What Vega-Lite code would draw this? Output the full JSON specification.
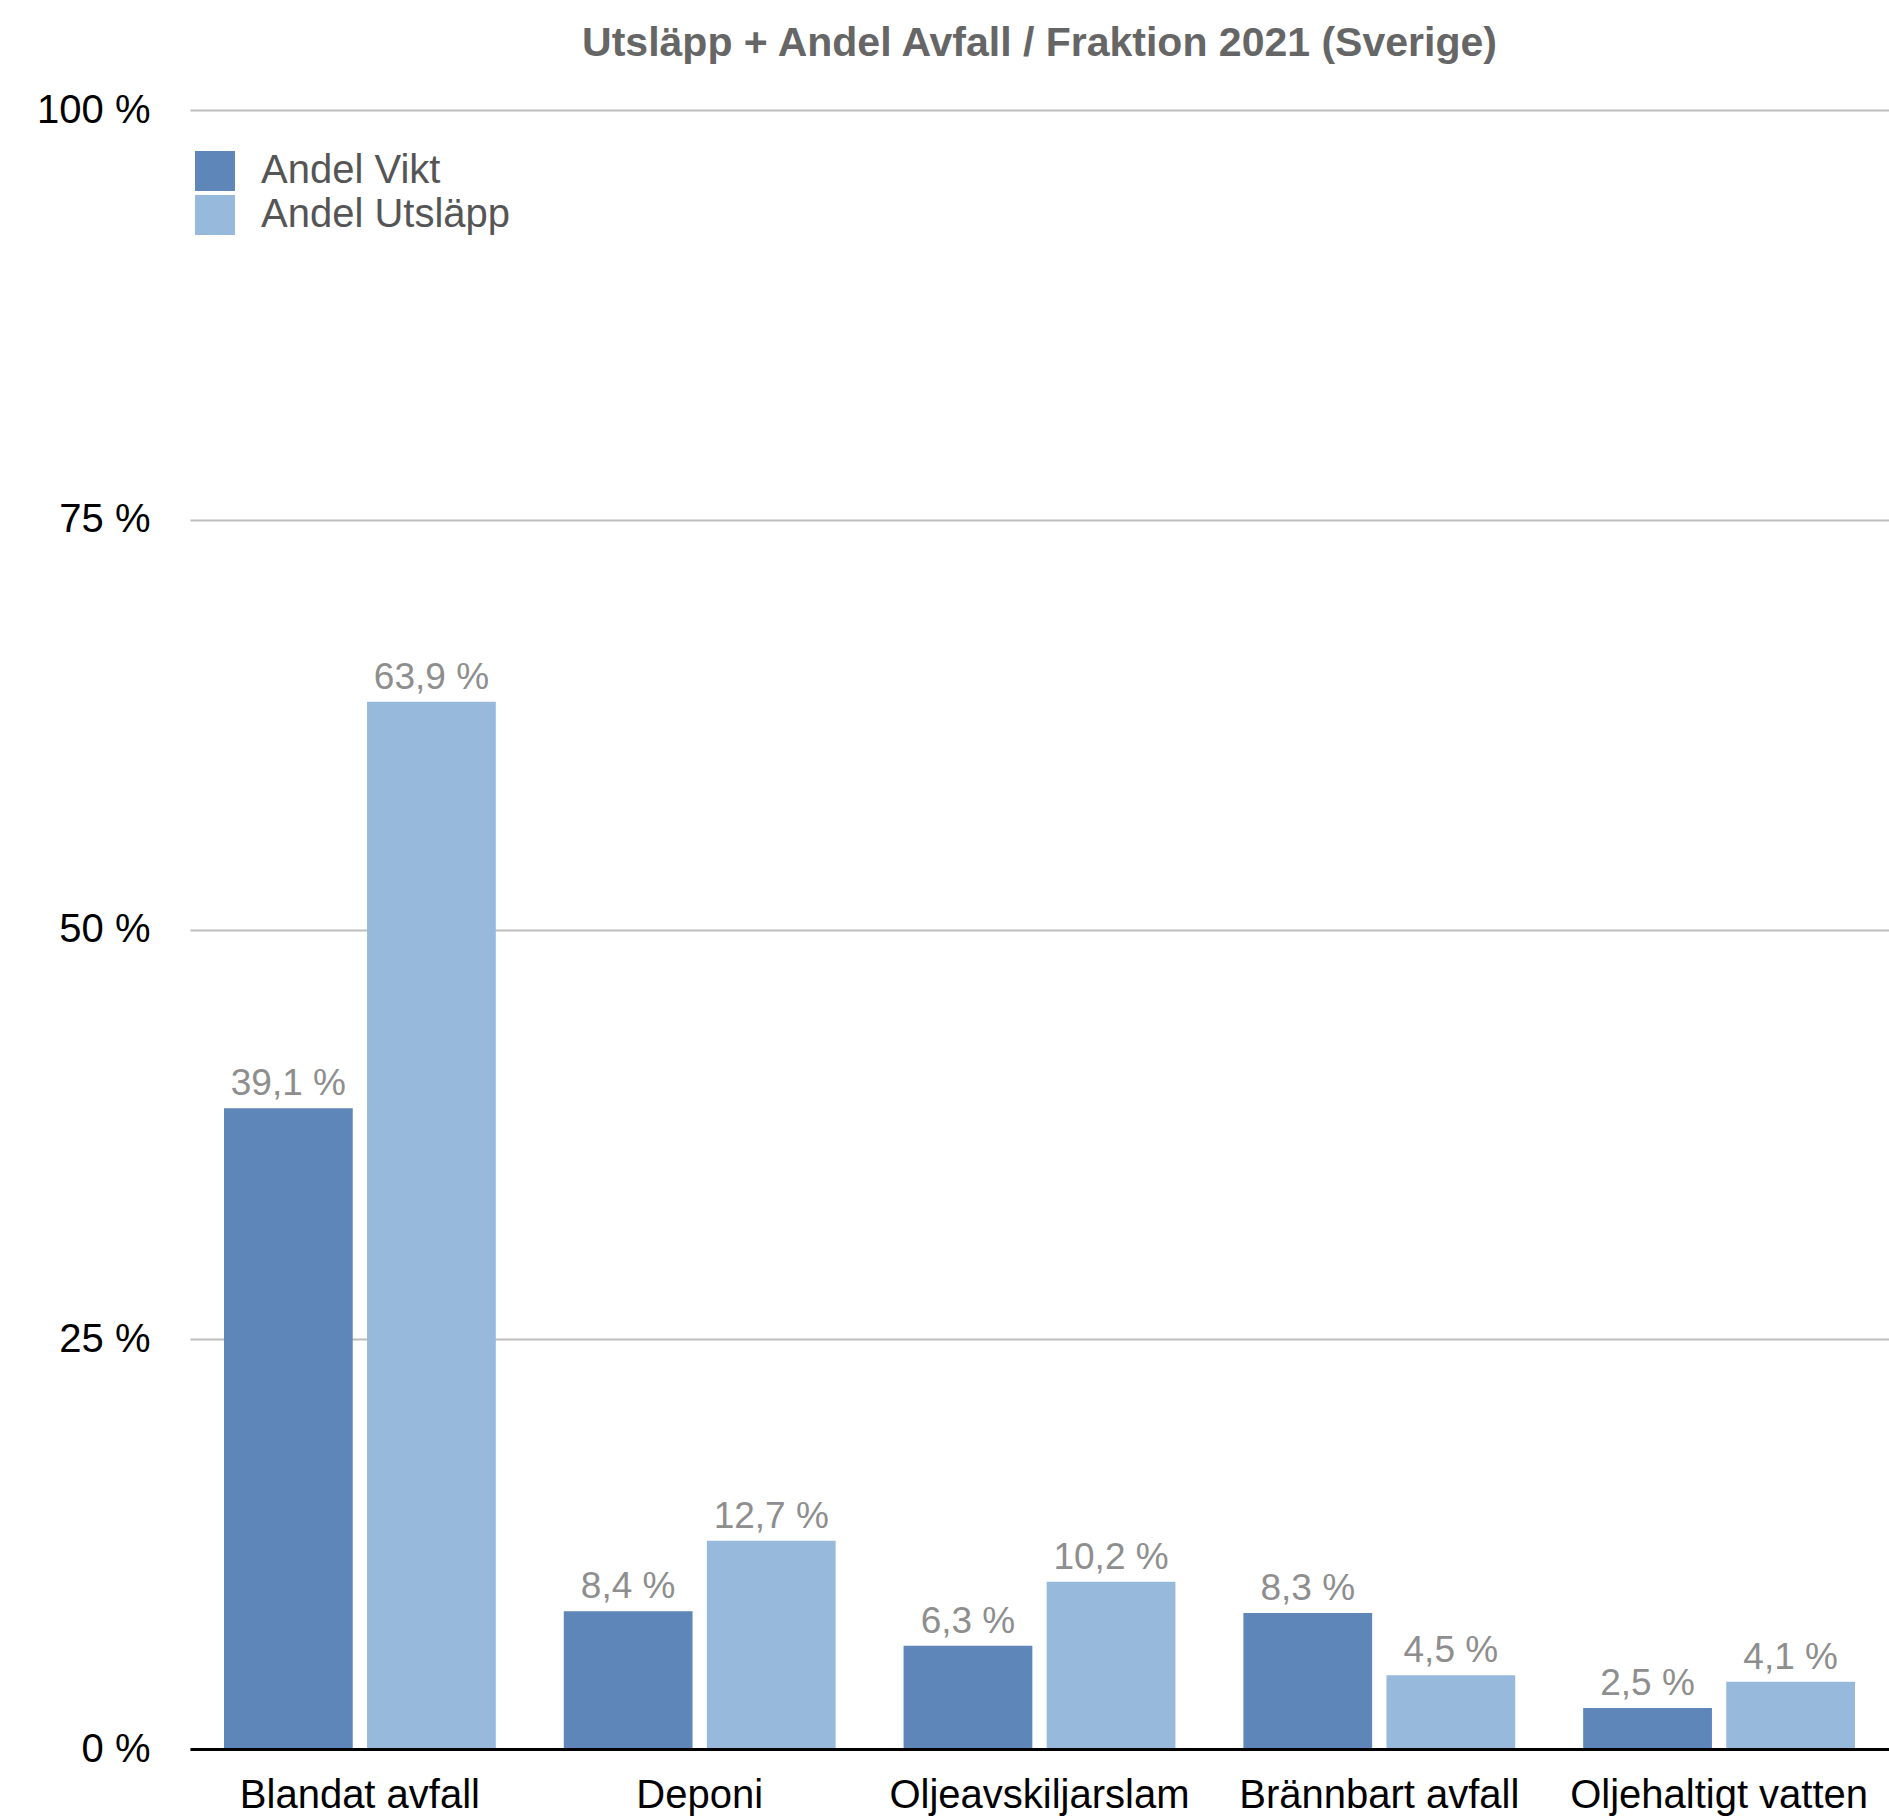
{
  "$schema": "https://vega.github.io/schema/vega-lite/v6.json",
  "width": 1699,
  "height": 1639,
  "autosize": {"type": "none"},
  "padding": {"left": 190, "top": 110, "right": 0, "bottom": 67},
  "background": "white",
  "config": {"view": {"stroke": null}},
  "title": {
    "text": "Utsläpp + Andel Avfall / Fraktion 2021 (Sverige)",
    "font": "Liberation Sans",
    "fontSize": 41,
    "fontWeight": "bold",
    "color": "#666666",
    "anchor": "middle",
    "offset": 2,
    "dy": 9,
    "baseline": "alphabetic"
  },
  "data": {
    "values": [
      {"fraktion": "Blandat avfall", "serie": "Andel Vikt", "andel": 39.1},
      {"fraktion": "Blandat avfall", "serie": "Andel Utsläpp", "andel": 63.9},
      {"fraktion": "Deponi", "serie": "Andel Vikt", "andel": 8.4},
      {"fraktion": "Deponi", "serie": "Andel Utsläpp", "andel": 12.7},
      {"fraktion": "Oljeavskiljarslam", "serie": "Andel Vikt", "andel": 6.3},
      {"fraktion": "Oljeavskiljarslam", "serie": "Andel Utsläpp", "andel": 10.2},
      {"fraktion": "Brännbart avfall", "serie": "Andel Vikt", "andel": 8.3},
      {"fraktion": "Brännbart avfall", "serie": "Andel Utsläpp", "andel": 4.5},
      {"fraktion": "Oljehaltigt vatten", "serie": "Andel Vikt", "andel": 2.5},
      {"fraktion": "Oljehaltigt vatten", "serie": "Andel Utsläpp", "andel": 4.1}
    ]
  },
  "transform": [
    {"calculate": "replace(format(datum.andel, '.1f'), '.', ',') + ' %'", "as": "etikett"}
  ],
  "encoding": {
    "x": {
      "field": "fraktion",
      "type": "nominal",
      "sort": ["Blandat avfall", "Deponi", "Oljeavskiljarslam", "Brännbart avfall", "Oljehaltigt vatten"],
      "scale": {"paddingInner": 0.2, "paddingOuter": 0.1},
      "axis": {
        "title": null,
        "labelAngle": 0,
        "labelFont": "Liberation Sans",
        "labelFontSize": 40,
        "labelColor": "#000000",
        "labelPadding": 26,
        "labelLimit": 0,
        "ticks": false,
        "domainColor": "#000000",
        "domainWidth": 3,
        "zindex": 1
      }
    },
    "xOffset": {
      "field": "serie",
      "type": "nominal",
      "sort": ["Andel Vikt", "Andel Utsläpp"],
      "scale": {"paddingInner": 0.1, "paddingOuter": 0}
    },
    "y": {
      "field": "andel",
      "type": "quantitative",
      "scale": {"domain": [0, 100], "nice": false},
      "axis": {
        "title": null,
        "values": [0, 25, 50, 75, 100],
        "labelExpr": "datum.value + ' %'",
        "labelFont": "Liberation Sans",
        "labelFontSize": 40,
        "labelColor": "#000000",
        "labelPadding": 40,
        "ticks": false,
        "domain": false,
        "grid": true,
        "gridColor": "#bdbdbd",
        "gridWidth": 2
      }
    }
  },
  "layer": [
    {
      "mark": {"type": "bar"},
      "encoding": {
        "color": {
          "field": "serie",
          "type": "nominal",
          "sort": ["Andel Vikt", "Andel Utsläpp"],
          "scale": {"domain": ["Andel Vikt", "Andel Utsläpp"], "range": ["#5E86B8", "#97B9DC"]},
          "legend": {
            "title": null,
            "orient": "none",
            "legendX": 5,
            "legendY": 41,
            "symbolType": "square",
            "symbolSize": 1600,
            "symbolStrokeWidth": 0,
            "symbolOpacity": 1,
            "labelFont": "Liberation Sans",
            "labelFontSize": 40,
            "labelColor": "#555555",
            "labelOffset": 26,
            "labelLimit": 0,
            "rowPadding": 4
          }
        }
      }
    },
    {
      "mark": {
        "type": "text",
        "baseline": "alphabetic",
        "dy": -13,
        "font": "Liberation Sans",
        "fontSize": 37,
        "color": "#8e8e8e"
      },
      "encoding": {
        "text": {"field": "etikett", "type": "nominal"}
      }
    }
  ]
}
